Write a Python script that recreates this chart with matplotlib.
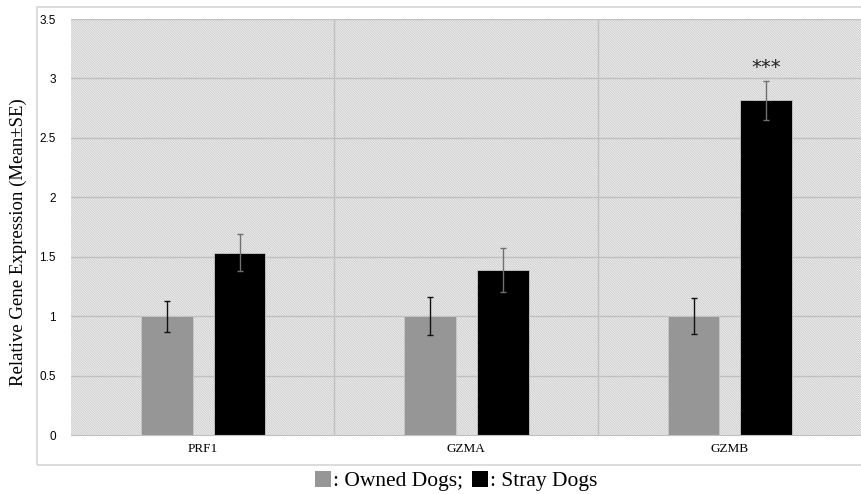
import matplotlib.pyplot as plt
from matplotlib.patches import Patch, Rectangle
import numpy as np

genes = ["PRF1", "GZMA", "GZMB"]
owned = [1.0, 1.0, 1.0]
owned_se = [0.13, 0.16, 0.15]
stray = [1.535, 1.39, 2.815]
stray_se = [0.155, 0.185, 0.165]
signif = ["", "", "***"]

plt.rcParams["hatch.linewidth"] = 0.7
plt.rcParams["hatch.color"] = "#cdcdcd"

fig = plt.figure(figsize=(8.61, 4.94), dpi=100)
fig.patches.append(Rectangle((0.043, 0.0587), 1.0, 0.927, transform=fig.transFigure,
                             fill=False, edgecolor="#d5d5d5", linewidth=1.2))
ax = fig.add_axes([0.0825, 0.1194, 0.9175, 0.8421])

x = np.arange(len(genes))
ax.set_xlim(-0.5, 2.5)
ax.set_ylim(0, 3.5)

# hatched background
ax.add_patch(Rectangle((0, 0), 1, 1, transform=ax.transAxes, facecolor="#f4f4f4",
                       edgecolor="#cdcdcd", hatch="\\" * 14, linewidth=0, zorder=0))

for yv in np.arange(0.5, 3.51, 0.5):
    ax.axhline(yv, color="#c0c0c0", linewidth=1.0, zorder=1)
for xv in [0.5, 1.5]:
    ax.axvline(xv, color="#c0c0c0", linewidth=1.0, zorder=1)

w = 0.196
ax.bar(x - 0.136, owned, w, color="#969696", edgecolor="#c8c8c8", linewidth=0.6, zorder=2)
ax.bar(x + 0.14, stray, w, color="black", edgecolor="#c8c8c8", linewidth=0.6, zorder=2)
ax.errorbar(x - 0.136, owned, yerr=owned_se, fmt="none", ecolor="#111111",
            elinewidth=1.0, capsize=2.5, capthick=1.0, zorder=3)
ax.errorbar(x + 0.14, stray, yerr=stray_se, fmt="none", ecolor="#707070",
            elinewidth=1.0, capsize=2.5, capthick=1.0, zorder=3)

for i, s in enumerate(signif):
    if s:
        ax.text(x[i] + 0.14, stray[i] + stray_se[i] + 0.03, s, ha="center", va="bottom",
                fontsize=14, family="DejaVu Sans", color="#222222")

for side in ["left", "right", "top"]:
    ax.spines[side].set_visible(False)
ax.spines["bottom"].set_color("#c0c0c0")

ax.set_xticks(x)
ax.set_xticklabels(genes, family="Liberation Serif", fontsize=9.5)
ax.set_yticks(np.arange(0, 3.51, 0.5))
ax.set_yticklabels(["0", "0.5", "1", "1.5", "2", "2.5", "3", "3.5"],
                   family="Liberation Sans", fontsize=8.5)
ax.tick_params(axis="both", length=0)
ax.tick_params(axis="y", pad=11)
ax.tick_params(axis="x", pad=6)

fig.text(0.021, 0.51, "Relative Gene Expression (Mean\u00b1SE)", rotation=90,
         ha="center", va="center", family="Liberation Serif", fontsize=13.5)

handles = [Patch(facecolor="#969696"), Patch(facecolor="black")]
fig.legend(handles, [": Owned Dogs;", ": Stray Dogs"], loc="center",
           bbox_to_anchor=(0.53, 0.026), ncol=2, frameon=False,
           prop={"family": "Liberation Serif", "size": 15.5},
           handlelength=0.75, handleheight=0.75, handletextpad=0.1, columnspacing=0.4)

fig.savefig("out.png", dpi=100)
